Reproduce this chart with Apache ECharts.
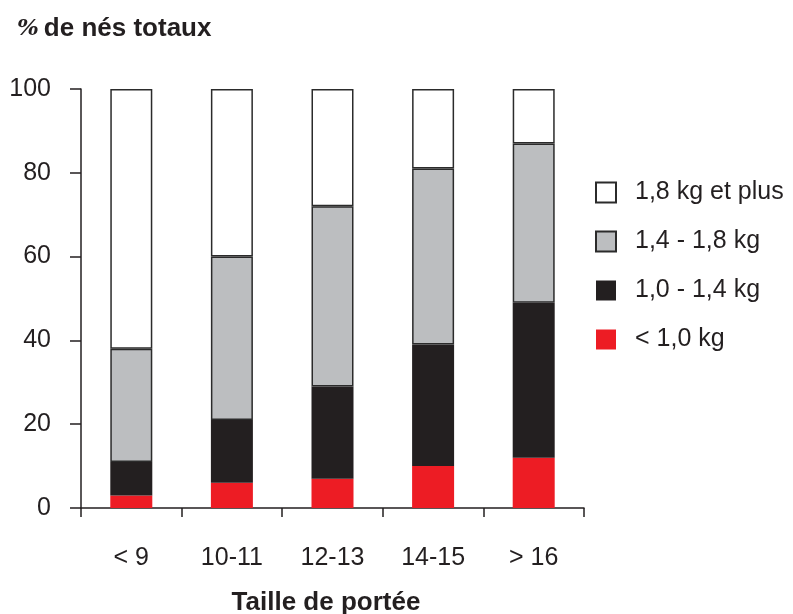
<!DOCTYPE html>
<html>
<head>
<meta charset="utf-8">
<script src="https://cdn.jsdelivr.net/npm/echarts@6/dist/echarts.min.js"></script>
<style>html,body{margin:0;padding:0;background:#fff;}#c{width:793px;height:614px;}</style>
</head>
<body>
<div id="c"></div>
<script>
const categories = ['< 9', '10-11', '12-13', '14-15', '> 16'];
const seriesNames = ['< 1,0 kg', '1,0 - 1,4 kg', '1,4 - 1,8 kg', '1,8 kg et plus'];
const redVals = [3, 6, 7, 10, 12];
const blackVals = [8, 15, 22, 29, 37];
const grayVals = [27, 39, 43, 42, 38];
const whiteVals = [62, 40, 28, 19, 13];
const yTicks = [0, 20, 40, 60, 80, 100];

const FONT = "'Liberation Sans', Arial, sans-serif";
const chart = echarts.init(document.getElementById('c'), null, {renderer: 'canvas'});
const mk = (name, data, color, border) => ({
  name, type: 'bar', stack: 'a', data, barWidth: 42,
  itemStyle: {color, borderColor: border ? '#2b2b2b' : color, borderWidth: border ? 1.5 : 0},
  emphasis: {disabled: true}
});
chart.setOption({
  animation: false,
  textStyle: {fontFamily: FONT},
  title: [
    {text: '{p|%} {b|de nés totaux}', left: 12, top: 11,
     textStyle: {rich: {p: {fontFamily: 'DejaVu Serif, serif', fontStyle: 'italic', fontSize: 23, color: '#231F20'},
                        b: {fontFamily: FONT, fontWeight: 'bold', fontSize: 26, color: '#231F20'}}}},
    {text: 'Taille de portée', left: 321, top: 585, textAlign: 'center',
     textStyle: {fontFamily: FONT, fontWeight: 'bold', fontSize: 26, color: '#231F20'}}
  ],
  legend: {
    orient: 'vertical', left: 590, top: 175, itemWidth: 20, itemHeight: 20, itemGap: 24,
    icon: 'rect',
    data: [seriesNames[3], seriesNames[2], seriesNames[1], seriesNames[0]],
    textStyle: {fontFamily: FONT, fontSize: 25, lineHeight: 25, color: '#231F20', padding: [0, 0, 0, 14]},
    selectedMode: false
  },
  grid: {left: 81, top: 89, right: 209, bottom: 106},
  xAxis: {
    type: 'category', data: categories,
    axisLine: {lineStyle: {color: '#231F20', width: 1.5}},
    axisTick: {show: true, length: 9, lineStyle: {color: '#231F20', width: 1.5}},
    axisLabel: {fontFamily: FONT, fontSize: 25, color: '#231F20', margin: 38}
  },
  yAxis: {
    type: 'value', min: 0, max: 100, interval: 20,
    splitLine: {show: false},
    axisLine: {show: true, lineStyle: {color: '#231F20', width: 1.5}},
    axisTick: {show: true, length: 11, lineStyle: {color: '#231F20', width: 1.5}},
    axisLabel: {fontFamily: FONT, fontSize: 25, color: '#231F20', margin: 30,
      formatter: v => yTicks.includes(v) ? String(v) : ''}
  },
  series: [
    mk(seriesNames[0], redVals, '#ED1C24', false),
    mk(seriesNames[1], blackVals, '#231F20', false),
    mk(seriesNames[2], grayVals, '#BCBEC0', true),
    mk(seriesNames[3], whiteVals, '#FFFFFF', true)
  ]
});
</script>
</body>
</html>
